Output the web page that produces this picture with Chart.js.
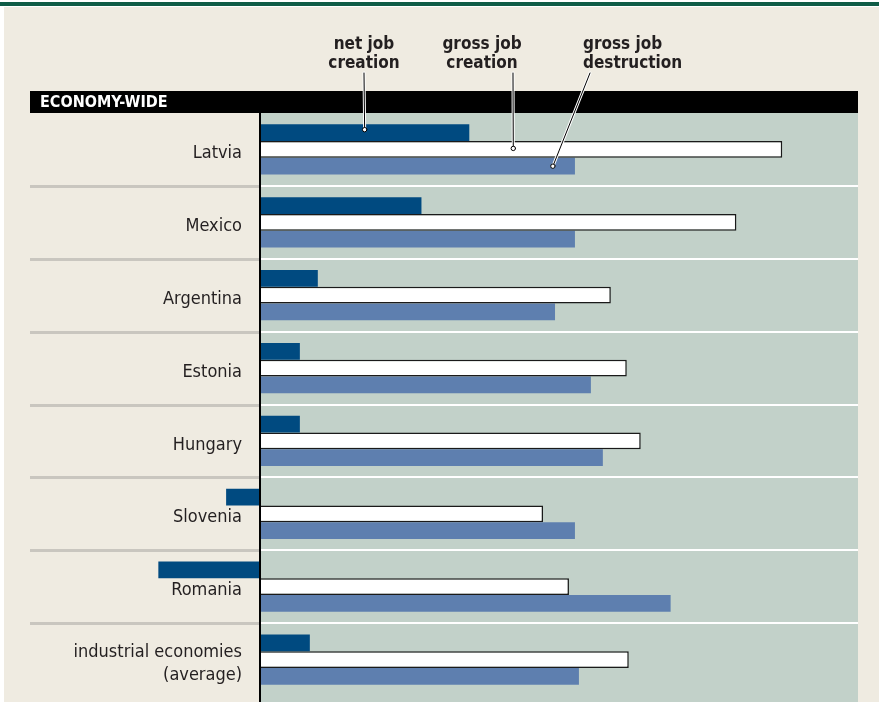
<!DOCTYPE html>
<html>
<head>
<meta charset="utf-8">
<script src="https://cdn.jsdelivr.net/npm/chart.js@4.4.1/dist/chart.umd.min.js"></script>
<style>
  html, body { margin: 0; padding: 0; background: #ffffff; }
  canvas { display: block; }
</style>
</head>
<body>
<canvas id="jobsChart" width="879" height="702"></canvas>
<script>
// data (percent of employment)
const countries = ["Latvia", "Mexico", "Argentina", "Estonia", "Hungary", "Slovenia", "Romania", ["industrial economies", "(average)"]];
const netCreation = [10.5, 8.1, 2.9, 2.0, 2.0, -1.7, -5.1, 2.5];
const grossCreation = [26.2, 23.9, 17.6, 18.4, 19.1, 14.2, 15.5, 18.5];
const grossDestruction = [15.8, 15.8, 14.8, 16.6, 17.2, 15.8, 20.6, 16.0];
const seriesNames = ["net job creation", "gross job creation", "gross job destruction"];

const FONT = "'Liberation Sans Narrow', 'DejaVu Sans Condensed', 'Noto Sans', sans-serif";
const INK = "#231f20";

// page frame, panel background, separators, header strip
const framePlugin = {
  id: "frame",
  beforeDraw(chart) {
    const { ctx, chartArea: a, scales: { y } } = chart;
    ctx.save();
    ctx.fillStyle = "#ffffff";
    ctx.fillRect(0, 0, chart.width, chart.height);
    ctx.fillStyle = "#efebe1";
    ctx.fillRect(4, 7, chart.width - 4, chart.height - 7);
    ctx.fillStyle = "#0f5c46";
    ctx.fillRect(0, 2, chart.width, 4);

    // plot panel
    ctx.fillStyle = "#c2d1c9";
    ctx.fillRect(a.left, a.top, a.right - a.left, chart.height - a.top);

    // category separators
    for (let i = 0; i < countries.length - 1; i++) {
      const yy = Math.round((y.getPixelForValue(i) + y.getPixelForValue(i + 1)) / 2);
      ctx.fillStyle = "#c9c6bf";
      ctx.fillRect(30, yy - 1, a.left - 30, 3);
      ctx.fillStyle = "#ffffff";
      ctx.fillRect(a.left, yy - 1, a.right - a.left, 2);
    }

    // header bar
    ctx.fillStyle = "#000000";
    ctx.fillRect(30, 91, a.right - 30, a.top - 91);
    ctx.fillStyle = "#ffffff";
    ctx.font = "bold 16px " + FONT;
    ctx.textBaseline = "middle";
    ctx.textAlign = "left";
    ctx.fillText("ECONOMY-WIDE", 40, 103);
    ctx.restore();
  },
  afterDatasetsDraw(chart) {
    const { ctx, chartArea: a } = chart;
    ctx.save();
    // zero axis
    ctx.fillStyle = "#000000";
    ctx.fillRect(a.left - 1, a.top, 2, chart.height - a.top);
    ctx.restore();
  }
};

// leader-line labels pointing at the first category
const calloutPlugin = {
  id: "callouts",
  afterDraw(chart) {
    const { ctx, scales: { x } } = chart;
    const spots = [
      { ds: 0, frac: 0.5, dy: -3, tx: 364, align: "center", lx: 364, lines: ["net job", "creation"] },
      { ds: 1, frac: 0.485, dy: -1, tx: 482, align: "center", lx: 513, lines: ["gross job", "creation"] },
      { ds: 2, frac: 0.93, dy: 0, tx: 583, align: "left", lx: 590, lines: ["gross job", "destruction"] }
    ];
    const values = [netCreation, grossCreation, grossDestruction];
    ctx.save();
    spots.forEach(s => {
      const bar = chart.getDatasetMeta(s.ds).data[0];
      const ex = x.getPixelForValue(values[s.ds][0] * s.frac);
      const ey = bar.y + s.dy;

      ctx.font = "bold 17px " + FONT;
      ctx.fillStyle = INK;
      ctx.textAlign = s.align;
      ctx.textBaseline = "alphabetic";
      ctx.fillText(s.lines[0], s.tx, 49);
      ctx.fillText(s.lines[1], s.tx, 68);

      ctx.lineCap = "round";
      ctx.strokeStyle = "#ffffff";
      ctx.lineWidth = 3;
      ctx.beginPath(); ctx.moveTo(s.lx, 73); ctx.lineTo(ex, ey); ctx.stroke();
      ctx.strokeStyle = "#000000";
      ctx.lineWidth = 1;
      ctx.beginPath(); ctx.moveTo(s.lx, 73); ctx.lineTo(ex, ey); ctx.stroke();

      ctx.beginPath();
      ctx.arc(ex, ey, 2.2, 0, Math.PI * 2);
      ctx.fillStyle = "#ffffff";
      ctx.fill();
      ctx.strokeStyle = "#000000";
      ctx.lineWidth = 1;
      ctx.stroke();
    });
    ctx.restore();
  }
};

new Chart(document.getElementById("jobsChart"), {
  type: "bar",
  data: {
    labels: countries,
    datasets: [
      { label: seriesNames[0], data: netCreation, backgroundColor: "#004a80", borderWidth: 0, clip: false },
      { label: seriesNames[1], data: grossCreation, backgroundColor: "#ffffff", borderColor: "#1a1a1a", borderWidth: 1.5, borderSkipped: "start", clip: false },
      { label: seriesNames[2], data: grossDestruction, backgroundColor: "#5e7faf", borderWidth: 0, clip: false }
    ]
  },
  options: {
    indexAxis: "y",
    responsive: false,
    animation: false,
    layout: { padding: { top: 113, left: 30, right: 21, bottom: 6 } },
    datasets: { bar: { categoryPercentage: 0.69, barPercentage: 1.0 } },
    scales: {
      x: { display: false, min: 0, max: 30 },
      y: {
        afterFit: s => { s.width = 230; s.paddingTop = 0; s.paddingBottom = 0; },
        grid: { display: false },
        border: { display: false },
        ticks: { color: INK, padding: 10, labelOffset: 4, font: { family: FONT, size: 18, lineHeight: 1.3 } }
      }
    },
    plugins: { legend: { display: false }, tooltip: { enabled: false } }
  },
  plugins: [framePlugin, calloutPlugin]
});
</script>
</body>
</html>
